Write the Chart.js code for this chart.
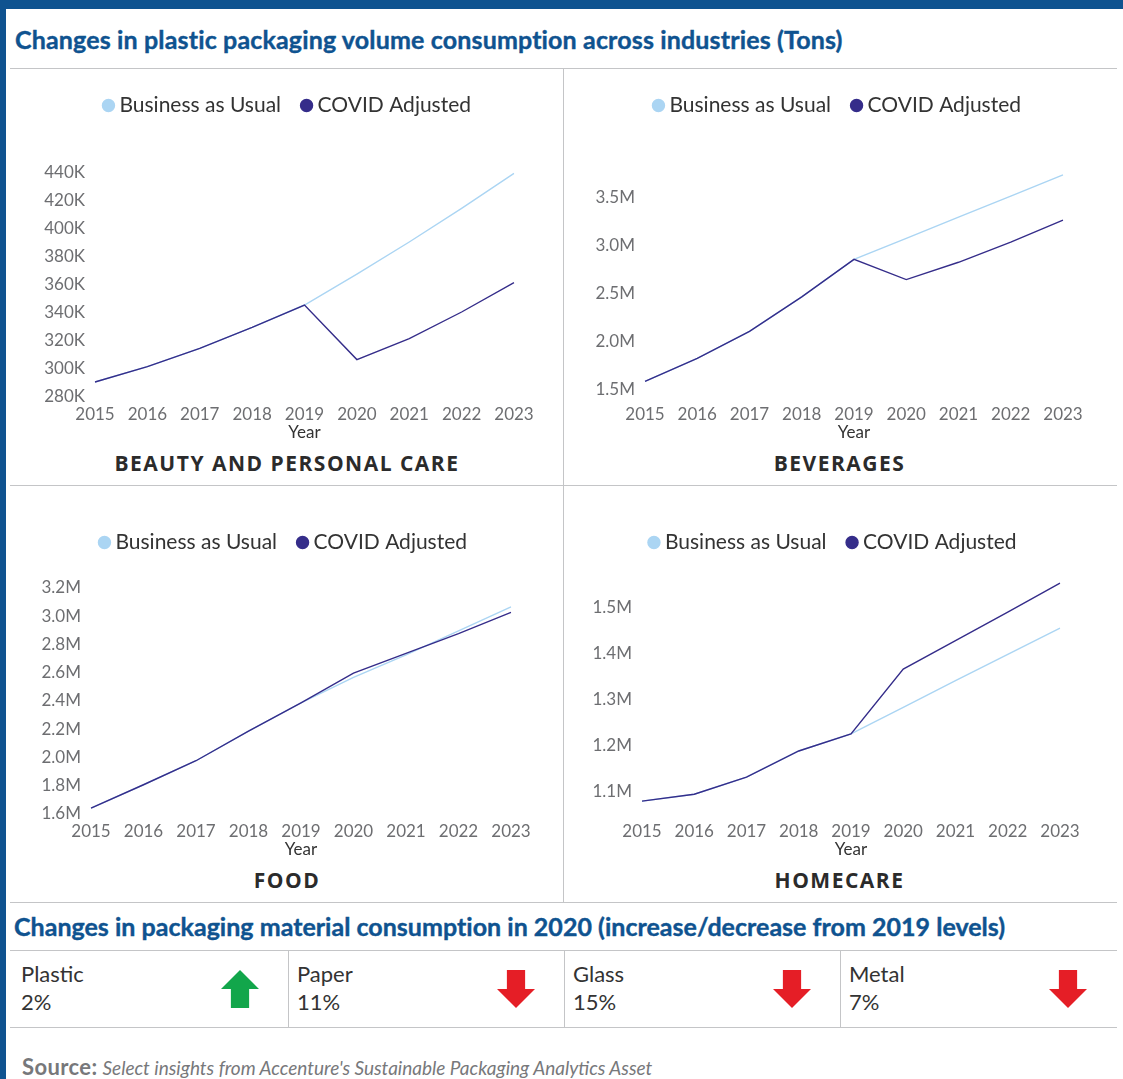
<!DOCTYPE html>
<html>
<head>
<meta charset="utf-8">
<script src="https://cdn.jsdelivr.net/npm/chart.js@4"></script>
<style>
    html, body { margin: 0; padding: 0; background: #fff; }
    body { position: relative; width: 1123px; height: 1079px; overflow: hidden; font-family: Lato, sans-serif; }
    .abs { position: absolute; white-space: nowrap; }
    canvas { position: absolute; }
    .hline { position: absolute; height: 1px; background: #c4c5c7; }
    .vline { position: absolute; width: 1px; background: #c4c5c7; }
    .heading { color: #0f5390; font-weight: 700; font-size: 25px; line-height: 30px; -webkit-text-stroke: 0.4px #0f5390; }
    .panel-title { color: #2b2b2b; font-family: "Open Sans", sans-serif; font-weight: 700; font-size: 21px; line-height: 26px; letter-spacing: 1.5px; text-align: center; }
    .material { color: #333; font-size: 22px; line-height: 28px; }
    .arrow { position: absolute; width: 38px; height: 38px; }
    .arrow.up { background: #12a64b; clip-path: polygon(50% 0, 100% 50%, 74% 50%, 74% 100%, 26% 100%, 26% 50%, 0 50%); }
    .arrow.down { background: #e51e26; clip-path: polygon(26% 0, 74% 0, 74% 50%, 100% 50%, 50% 100%, 0 50%, 26% 50%); }
</style>
</head>
<body>
<div class="abs" style="left:0;top:0;width:1123px;height:9px;background:#0f5390"></div>
<div class="abs" style="left:0;top:0;width:6px;height:1079px;background:#0f5390"></div>

<div class="abs heading" style="left:15px;top:24px;letter-spacing:0.15px">Changes in plastic packaging volume consumption across industries (Tons)</div>
<div class="hline" style="left:10px;top:68px;width:1107px"></div>
<div class="hline" style="left:10px;top:485px;width:1107px"></div>
<div class="hline" style="left:10px;top:902px;width:1107px"></div>
<div class="vline" style="left:563px;top:68px;height:834px"></div>

<canvas id="beautyChart" style="left:11px;top:70px;width:552px;height:373px"></canvas>
<canvas id="beveragesChart" style="left:564px;top:70px;width:546px;height:373px"></canvas>
<canvas id="foodChart" style="left:6px;top:507px;width:552px;height:353px"></canvas>
<canvas id="homecareChart" style="left:564px;top:507px;width:536px;height:353px"></canvas>

<div class="abs panel-title" style="left:11px;top:450px;width:552px">BEAUTY AND PERSONAL CARE</div>
<div class="abs panel-title" style="left:564px;top:450px;width:551px">BEVERAGES</div>
<div class="abs panel-title" style="left:11px;top:867px;width:552px">FOOD</div>
<div class="abs panel-title" style="left:564px;top:867px;width:551px">HOMECARE</div>

<div class="abs heading" style="left:14px;top:911px;letter-spacing:0.02px">Changes in packaging material consumption in 2020 (increase/decrease from 2019 levels)</div>
<div class="hline" style="left:10px;top:950px;width:1107px"></div>
<div class="hline" style="left:10px;top:1027px;width:1107px"></div>
<div id="materials"></div>

<div class="abs" style="left:22px;top:1055px;font-size:19px;line-height:24px;color:#77787b"><b style="font-size:22px;letter-spacing:0.4px">Source:</b> <i>Select insights from Accenture's Sustainable Packaging Analytics Asset</i></div>

<script>
const years = ['2015', '2016', '2017', '2018', '2019', '2020', '2021', '2022', '2023'];

const beautyUsual = [290000, 301000, 314000, 329000, 345000, 367000, 390000, 414000, 439000];
const beautyCovid = [290000, 301000, 314000, 329000, 345000, 306000, 321000, 340000, 361000];
const beautyTicks = [280000, 300000, 320000, 340000, 360000, 380000, 400000, 420000, 440000];

const beveragesUsual = [1580000, 1820000, 2100000, 2460000, 2850000, 3070000, 3290000, 3510000, 3730000];
const beveragesCovid = [1580000, 1820000, 2100000, 2460000, 2850000, 2640000, 2820000, 3030000, 3260000];
const beveragesTicks = [1500000, 2000000, 2500000, 3000000, 3500000];

const foodUsual = [1635000, 1800000, 1970000, 2180000, 2380000, 2560000, 2720000, 2890000, 3060000];
const foodCovid = [1635000, 1800000, 1970000, 2180000, 2380000, 2590000, 2730000, 2870000, 3020000];
const foodTicks = [1600000, 1800000, 2000000, 2200000, 2400000, 2600000, 2800000, 3000000, 3200000];

const homecareUsual = [1078000, 1093000, 1130000, 1187000, 1224000, 1282000, 1340000, 1397000, 1454000];
const homecareCovid = [1078000, 1093000, 1130000, 1187000, 1224000, 1365000, 1427000, 1489000, 1552000];
const homecareTicks = [1100000, 1200000, 1300000, 1400000, 1500000];

const materialNames = ['Plastic', 'Paper', 'Glass', 'Metal'];
const materialChanges = ['2%', '11%', '15%', '7%'];
const materialDirections = ['up', 'down', 'down', 'down'];

function formatTick(value) {
    if (value >= 1000000) return (value / 1000000).toFixed(1) + 'M';
    return (value / 1000) + 'K';
}

// legend height decides where the plot starts, shift moves it sideways off the plot's centre
const legendPlacementPlugin = {
    id: 'legendPlacement',
    beforeInit(chart, args, options) {
        const fit = chart.legend.fit;
        chart.legend.fit = function () {
            fit.call(this);
            this.height = options.height;
        };
    },
    afterLayout(chart, args, options) {
        chart.legend.left += options.shift;
        chart.legend.right += options.shift;
    }
};

function createLineChart(id, usual, covid, ticks, layout) {
    const canvas = document.getElementById(id);
    canvas.width = parseInt(canvas.style.width);
    canvas.height = parseInt(canvas.style.height);
    new Chart(canvas.getContext('2d'), {
        type: 'line',
        plugins: [legendPlacementPlugin],
        data: {
            labels: years,
            datasets: [
                {
                    label: 'Business as Usual',
                    data: usual,
                    borderColor: '#abd5f3',
                    backgroundColor: '#abd5f3',
                    borderWidth: 1.4,
                    pointRadius: 0,
                    tension: 0,
                    order: 2
                },
                {
                    label: 'COVID Adjusted',
                    data: covid,
                    borderColor: '#352d8a',
                    backgroundColor: '#352d8a',
                    borderWidth: 1.4,
                    pointRadius: 0,
                    tension: 0,
                    order: 1
                }
            ]
        },
        options: {
            responsive: false,
            animation: false,
            layout: { padding: { top: 0, right: layout.right, bottom: 0, left: 0 } },
            plugins: {
                legendPlacement: { height: layout.legendHeight, shift: layout.legendShift },
                tooltip: { enabled: false },
                legend: {
                    position: 'top',
                    align: 'center',
                    labels: {
                        usePointStyle: true,
                        pointStyle: 'circle',
                        boxWidth: 1,
                        boxHeight: 8.5,
                        padding: 25,
                        color: '#333333',
                        font: { family: 'Lato', size: 21 },
                        sort: (a, b) => a.text.localeCompare(b.text)
                    }
                }
            },
            scales: {
                x: {
                    type: 'category',
                    offset: false,
                    grid: { display: false, drawTicks: false },
                    border: { display: false },
                    afterFit(scale) { scale.height = layout.xHeight; },
                    ticks: {
                        color: '#6d6e71',
                        font: { family: 'Lato', size: 17 },
                        padding: layout.xPadding,
                        maxRotation: 0,
                        autoSkip: false
                    },
                    title: {
                        display: true,
                        text: 'Year',
                        color: '#333333',
                        font: { family: 'Lato', size: 17 },
                        padding: 0
                    }
                },
                y: {
                    min: layout.min,
                    max: layout.max,
                    grid: { display: false, drawTicks: false },
                    border: { display: false },
                    afterFit(scale) { scale.width = layout.yWidth; },
                    afterBuildTicks(scale) { scale.ticks = ticks.map(value => ({ value })); },
                    ticks: {
                        color: '#6d6e71',
                        font: { family: 'Lato', size: 17 },
                        padding: 10,
                        labelOffset: 1,
                        callback: formatTick
                    }
                }
            }
        }
    });
}

createLineChart('beautyChart', beautyUsual, beautyCovid, beautyTicks,
    { min: 280000, max: 440000, legendHeight: 102, legendShift: 27, right: 49, yWidth: 84, xHeight: 47, xPadding: 8 });
createLineChart('beveragesChart', beveragesUsual, beveragesCovid, beveragesTicks,
    { min: 1500000, max: 3750000, legendHeight: 103, legendShift: 26, right: 47, yWidth: 81, xHeight: 54, xPadding: 15 });
createLineChart('foodChart', foodUsual, foodCovid, foodTicks,
    { min: 1600000, max: 3200000, legendHeight: 80, legendShift: 27, right: 47, yWidth: 85, xHeight: 47, xPadding: 8 });
createLineChart('homecareChart', homecareUsual, homecareCovid, homecareTicks,
    { min: 1050000, max: 1600000, legendHeight: 54, legendShift: 23, right: 40, yWidth: 78, xHeight: 46, xPadding: 7 });

// bottom strip
const materialsBox = document.getElementById('materials');
materialNames.forEach((name, i) => {
    const left = 10 + i * 276;
    let html = '<div class="abs material" style="left:' + (left + 11) + 'px;top:960px">' + name + '<br>' + materialChanges[i] + '</div>';
    html += '<div class="arrow ' + materialDirections[i] + '" style="left:' + (left + 211) + 'px;top:970px"></div>';
    if (i > 0) html += '<div class="vline" style="left:' + (left + 2) + 'px;top:950px;height:78px"></div>';
    materialsBox.innerHTML += html;
});
</script>
</body>
</html>
